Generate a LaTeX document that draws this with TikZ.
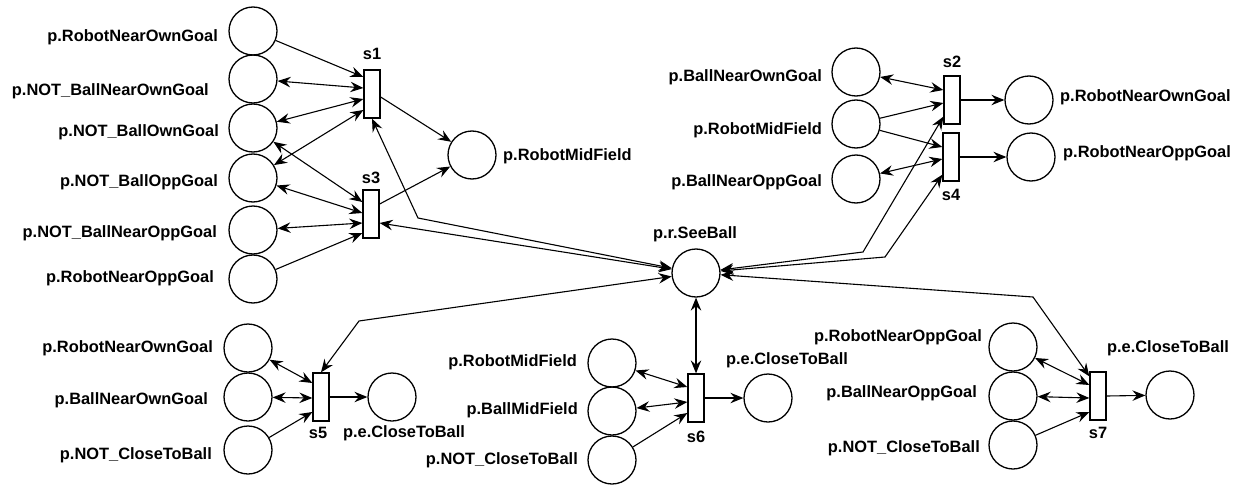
\documentclass[tikz,border=0pt]{standalone}
\usepackage{fontspec}
\setmainfont{Liberation Sans}
\usetikzlibrary{arrows.meta,calc}
\begin{document}
\begin{tikzpicture}[x=1pt,y=-1pt,
  place/.style={circle,draw,line width=1.3pt,minimum size=48pt,inner sep=0pt},
  trans/.style={rectangle,draw,line width=1.3pt,fill=white,minimum width=16pt,minimum height=48pt,inner sep=0pt},
  lbl/.style={font=\fontsize{16.4}{18}\selectfont\bfseries,inner sep=0pt},
  flow/.style={line width=1.1pt,-{Stealth[length=13pt,width=10.5pt,inset=4.5pt]}},
  readarc/.style={line width=1.1pt,{Stealth[length=13pt,width=10.5pt,inset=4.5pt]}-{Stealth[length=13pt,width=10.5pt,inset=4.5pt]}},
]
\useasboundingbox (0,0) rectangle (1252,487);

% ---- upper left: transitions s1 and s3
\node[place] (a1) at (253,31) {};
\node[place] (a2) at (253,79) {};
\node[place] (a3) at (253,128) {};
\node[place] (a4) at (253,178) {};
\node[place] (a5) at (253,230) {};
\node[place] (a6) at (253,279) {};
\node[lbl,anchor=east] (la1) at (218,37) {p.RobotNearOwnGoal};
\node[lbl,anchor=east] (la2) at (209,91) {p.NOT\_BallNearOwnGoal};
\node[lbl,anchor=east] (la3) at (219,132) {p.NOT\_BallOwnGoal};
\node[lbl,anchor=east] (la4) at (218,182) {p.NOT\_BallOppGoal};
\node[lbl,anchor=east] (la5) at (217,233) {p.NOT\_BallNearOppGoal};
\node[lbl,anchor=east] (la6) at (214,278) {p.RobotNearOppGoal};

\node[trans] (s1) at (372,94) {};
\node[lbl] (ls1) at (372,54) {s1};
\node[trans] (s3) at (371,214) {};
\node[lbl] (ls3) at (371,178) {s3};

\node[place] (rmf) at (472,155) {};
\node[lbl,anchor=west] (lrmf) at (503,156) {p.RobotMidField};

% ---- shared place
\node[place] (see) at (696,273) {};
\node[lbl] (lsee) at (695,234) {p.r.SeeBall};

% ---- upper right: transitions s2 and s4
\node[place] (b1) at (856,72) {};
\node[place] (b2) at (856,124) {};
\node[place] (b3) at (856,179) {};
\node[lbl,anchor=east] (lb1) at (822,77) {p.BallNearOwnGoal};
\node[lbl,anchor=east] (lb2) at (822,130) {p.RobotMidField};
\node[lbl,anchor=east] (lb3) at (822,182) {p.BallNearOppGoal};
\node[trans] (s2) at (952,100) {};
\node[lbl] (ls2) at (952,62) {s2};
\node[trans] (s4) at (951,157) {};
\node[lbl] (ls4) at (951,195) {s4};
\node[place] (b4) at (1029,100) {};
\node[place] (b5) at (1031,157) {};
\node[lbl,anchor=west] (lb4) at (1060,97) {p.RobotNearOwnGoal};
\node[lbl,anchor=west] (lb5) at (1063,153) {p.RobotNearOppGoal};

% ---- lower left: transition s5
\node[place] (c1) at (248,348) {};
\node[place] (c2) at (248,397) {};
\node[place] (c3) at (248,450) {};
\node[lbl,anchor=east] (lc1) at (213,348) {p.RobotNearOwnGoal};
\node[lbl,anchor=east] (lc2) at (208,400) {p.BallNearOwnGoal};
\node[lbl,anchor=east] (lc3) at (212,455) {p.NOT\_CloseToBall};
\node[trans] (s5) at (321,397) {};
\node[lbl] (ls5) at (318,433) {s5};
\node[place] (c4) at (392,397) {};
\node[lbl] (lc4) at (404,433) {p.e.CloseToBall};

% ---- lower middle: transition s6
\node[place] (d1) at (612,363) {};
\node[place] (d2) at (612,411) {};
\node[place] (d3) at (612,460) {};
\node[lbl,anchor=east] (ld1) at (577,362) {p.RobotMidField};
\node[lbl,anchor=east] (ld2) at (578,410) {p.BallMidField};
\node[lbl,anchor=east] (ld3) at (578,460) {p.NOT\_CloseToBall};
\node[trans] (s6) at (696,398) {};
\node[lbl] (ls6) at (696,437) {s6};
\node[place] (d4) at (768,398) {};
\node[lbl] (ld4) at (787,360) {p.e.CloseToBall};

% ---- lower right: transition s7
\node[place] (e1) at (1013,347) {};
\node[place] (e2) at (1013,396) {};
\node[place] (e3) at (1013,445) {};
\node[lbl,anchor=east] (le1) at (982,337) {p.RobotNearOppGoal};
\node[lbl,anchor=east] (le2) at (977,393) {p.BallNearOppGoal};
\node[lbl,anchor=east] (le3) at (980,448) {p.NOT\_CloseToBall};
\node[trans] (s7) at (1098,396) {};
\node[lbl] (ls7) at (1098,433) {s7};
\node[place] (e4) at (1170,395) {};
\node[lbl] (le4) at (1168,348) {p.e.CloseToBall};

% ---- arcs of s1 and s3
\draw[flow] (a1) -- ($(s1.west)+(0,-17)$);
\draw[readarc] (a2) -- ($(s1.west)+(0,-6)$);
\draw[readarc] (a3) -- ($(s1.west)+(0,5)$);
\draw[readarc] (a4) -- ($(s1.west)+(0,16)$);
\draw[readarc] (a3) -- ($(s3.west)+(0,-12)$);
\draw[readarc] (a4) -- ($(s3.west)+(0,-1)$);
\draw[readarc] (a5) -- ($(s3.west)+(0,9)$);
\draw[flow] (a6) -- ($(s3.west)+(0,19)$);
\draw[flow] ($(s1.east)+(0,3)$) -- (rmf);
\draw[flow] ($(s3.east)+(0,-10)$) -- (rmf);
\draw[readarc] (s1.south) -- (418,218) -- (see);
\draw[readarc] ($(s3.east)+(0,9)$) -- (see);

% ---- arcs of s2 and s4
\draw[readarc] (b1) -- ($(s2.west)+(0,-10)$);
\draw[flow] (b2) -- ($(s2.west)+(0,3)$);
\draw[flow] (b2) -- ($(s4.west)+(0,-10)$);
\draw[readarc] (b3) -- ($(s4.west)+(0,2)$);
\draw[flow] (s2.east) -- (b4);
\draw[flow] (s4.east) -- (b5);
\draw[readarc] (see) -- (863,252) -- ($(s2.south west)+(0,-8)$);
\draw[readarc] (see) -- (885,257) -- ($(s4.south west)+(0,-7)$);

% ---- arcs of s5
\draw[readarc] (see) -- (359,321) -- (s5.north);
\draw[readarc] (c1) -- ($(s5.west)+(0,-14)$);
\draw[readarc] (c2) -- ($(s5.west)+(0,1)$);
\draw[flow] (c3) -- ($(s5.west)+(0,15)$);
\draw[flow] (s5.east) -- (c4);

% ---- arcs of s6
\draw[readarc] (see) -- (s6.north);
\draw[readarc] (d1) -- ($(s6.west)+(0,-11)$);
\draw[readarc] (d2) -- ($(s6.west)+(0,4)$);
\draw[flow] (d3) -- ($(s6.west)+(0,15)$);
\draw[flow] (s6.east) -- (d4);

% ---- arcs of s7
\draw[readarc] (see) -- (1033,297) -- ($(s7.north west)+(0,5)$);
\draw[readarc] (e1) -- ($(s7.west)+(0,-11)$);
\draw[readarc] (e2) -- ($(s7.west)+(0,2)$);
\draw[flow] (e3) -- ($(s7.west)+(0,16)$);
\draw[flow] (s7.east) -- (e4);
\end{tikzpicture}
\end{document}
